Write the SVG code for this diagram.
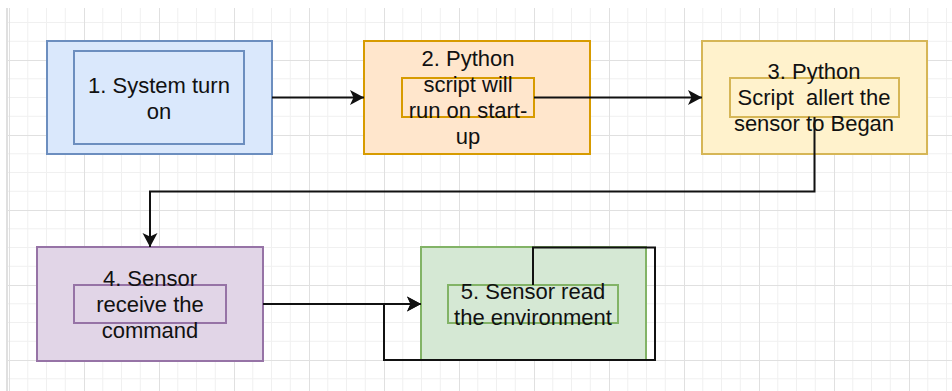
<svg xmlns="http://www.w3.org/2000/svg" width="952" height="391" viewBox="0 0 952 391">
  <style>
    .lbl { font-family: "Liberation Sans", Arial, Helvetica, sans-serif; font-size: 22px; fill: #111111; text-anchor: middle; white-space: pre; }
    .edge { fill: none; stroke: #111111; stroke-width: 2; }
    .blue { fill: #dae8fc; stroke: #6c8ebf; stroke-width: 2; }
    .orange { fill: #ffe6cc; stroke: #d79b00; stroke-width: 2; }
    .yellow { fill: #fff2cc; stroke: #d6b656; stroke-width: 2; }
    .purple { fill: #e1d5e7; stroke: #9673a6; stroke-width: 2; }
    .green { fill: #d5e8d4; stroke: #82b366; stroke-width: 2; }
    .inner { fill: none; stroke-width: 2; }
  </style>
  <defs>
    <pattern id="grid" patternUnits="userSpaceOnUse" x="9" y="60" width="75" height="75">
      <path d="M18.75 0V75M37.5 0V75M56.25 0V75M0 18.75H75M0 37.5H75M0 56.25H75" stroke="#f0f0f0" stroke-width="1" fill="none"/>
      <path d="M0.5 0V75M0 0.5H75" stroke="#e0e0e0" stroke-width="1" fill="none"/>
    </pattern>
    <marker id="arrow" viewBox="0 0 16 16" refX="15" refY="8" markerWidth="16" markerHeight="16" markerUnits="userSpaceOnUse" orient="auto">
      <path d="M15 8L1 0.5L4.5 8L1 15.5Z" fill="#111111"/>
    </marker>
  </defs>

  <!-- canvas background with grid -->
  <rect x="0" y="0" width="952" height="391" fill="#ffffff"/>
  <rect x="8" y="8" width="944" height="383" fill="url(#grid)"/>
  <line x1="7" y1="8" x2="7" y2="391" stroke="#e0e0e0" stroke-width="2"/>

  <g id="node1">
    <rect class="blue" x="47" y="41" width="225" height="113"/>
    <rect class="blue" x="74" y="51" width="170" height="93"/>
    <text class="lbl" x="159" y="93">1. System turn</text>
    <text class="lbl" x="159" y="119">on</text>
  </g>

  <g id="node2">
    <rect class="orange" x="364" y="41" width="226" height="113"/>
    <rect class="inner" stroke="#d79b00" x="402" y="78" width="132" height="39"/>
    <text class="lbl" x="468" y="66">2. Python</text>
    <text class="lbl" x="468" y="92">script will</text>
    <text class="lbl" x="468" y="118">run on start-</text>
    <text class="lbl" x="468" y="144">up</text>
  </g>

  <g id="node3">
    <rect class="yellow" x="702" y="41" width="225" height="113"/>
    <rect class="inner" stroke="#d6b656" x="730" y="78" width="169" height="39"/>
    <text class="lbl" x="814" y="79">3. Python</text>
    <text class="lbl" x="814" y="105">Script  allert the</text>
    <text class="lbl" x="814" y="131">sensor to Began</text>
  </g>

  <g id="node4">
    <rect class="purple" x="37" y="247" width="226" height="114"/>
    <rect class="inner" stroke="#9673a6" x="74" y="285" width="152" height="38"/>
    <text class="lbl" x="150" y="286">4. Sensor</text>
    <text class="lbl" x="150" y="312">receive the</text>
    <text class="lbl" x="150" y="338">command</text>
  </g>

  <g id="node5">
    <rect class="green" x="421" y="247" width="225" height="113"/>
    <rect class="inner" stroke="#82b366" x="448" y="285" width="170" height="38"/>
    <text class="lbl" x="533" y="299">5. Sensor read</text>
    <text class="lbl" x="533" y="325">the environment</text>
  </g>

  <g id="connectors">
    <path class="edge" d="M272 97.5H364" marker-end="url(#arrow)"/>
    <path class="edge" d="M534 97.5H702" marker-end="url(#arrow)"/>
    <path class="edge" d="M814.5 117V191.5H150V247" marker-end="url(#arrow)"/>
    <path class="edge" d="M263 304H421" marker-end="url(#arrow)"/>
    <path class="edge" d="M533 285V247.5H655V360H384V304H421" marker-end="url(#arrow)"/>
  </g>
</svg>
